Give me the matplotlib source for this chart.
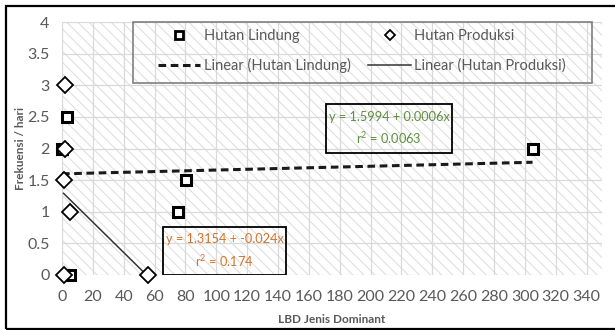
import matplotlib
matplotlib.use("Agg")
import matplotlib.pyplot as plt
from matplotlib.patches import Rectangle
import numpy as np

plt.rcParams['font.family'] = ['Lato', 'DejaVu Sans']
plt.rcParams['hatch.linewidth'] = 0.7
plt.rcParams['mathtext.fontset'] = 'custom'
plt.rcParams['mathtext.rm'] = 'Lato'

# Data
lindung_x = [0, 3.5, 5, 75, 80.5, 305]
lindung_y = [2, 2.5, 0, 1, 1.5, 2]
produksi_x = [2, 2, 1, 5.5, 1, 56]
produksi_y = [3, 2, 1.5, 1, 0, 0]

# Regression coefficients (intercept, slope) and r²
lindung_fit = (1.5994, 0.0006, 0.0063)
produksi_fit = (1.3154, -0.024, 0.174)

x_ticks = list(range(0, 341, 20))
y_ticks = [0, 0.5, 1, 1.5, 2, 2.5, 3, 3.5, 4]
x_label = "LBD Jenis Dominant"
y_label = "Frekuensi / hari"

gray_text = "#595959"
green = "#5f8f3e"
orange = "#d4742c"

W, H = 615, 330
fig = plt.figure(figsize=(W / 100, H / 100), dpi=100)
ax_left, ax_right, ax_top, ax_bottom = 62, 602, 22, 275
ax = fig.add_axes([ax_left / W, 1 - ax_bottom / H,
                   (ax_right - ax_left) / W, (ax_bottom - ax_top) / H])


def px_box(x0, y0, x1, y1):
    """Pixel rectangle -> axes-fraction (x, y, w, h)."""
    aw, ah = ax_right - ax_left, ax_bottom - ax_top
    return ((x0 - ax_left) / aw, (ax_bottom - y1) / ah,
            (x1 - x0) / aw, (y1 - y0) / ah)


# hatched plot background
ax.set_facecolor("white")
bg = Rectangle((0, 0), 1, 1, transform=ax.transAxes, facecolor="white",
               edgecolor="#dcdcdc", hatch="\\\\\\", linewidth=0, zorder=0)
ax.add_patch(bg)

ax.set_xlim(0, 350)
ax.set_ylim(0, 4)
ax.set_xticks(x_ticks)
ax.set_yticks(y_ticks)
ax.set_yticklabels([f"{v:g}" for v in y_ticks])
ax.grid(True, color="#d9d9d9", linewidth=0.9, zorder=0.5)
ax.set_axisbelow(True)
for s in ax.spines.values():
    s.set_visible(False)
ax.tick_params(length=0, labelsize=11.5, labelcolor=gray_text)
ax.tick_params(axis="x", pad=11)
ax.tick_params(axis="y", pad=9)

ax.set_xlabel(x_label, fontsize=8.5, fontweight="bold", color=gray_text, labelpad=7)
ax.set_ylabel(y_label, fontsize=8.5, fontweight="bold", color=gray_text, labelpad=1)

# trend lines
lx = np.array([min(lindung_x), max(lindung_x)])
px = np.array([min(produksi_x), max(produksi_x)])
l_line, = ax.plot(lx, lindung_fit[0] + lindung_fit[1] * lx, color="#1a1a1a",
                  linewidth=2.2, linestyle=(0, (2.5, 1.5)), zorder=3,
                  label="Linear (Hutan Lindung)")
p_line, = ax.plot(px, produksi_fit[0] + produksi_fit[1] * px, color="#333333",
                  linewidth=1.1, zorder=3, label="Linear (Hutan Produksi)")

# scatter points
l_pts, = ax.plot(lindung_x, lindung_y, linestyle="none", marker="s", markersize=7.5,
                 markerfacecolor="white", markeredgecolor="black", markeredgewidth=2.2,
                 zorder=4, label="Hutan Lindung", clip_on=False)
p_pts, = ax.plot(produksi_x, produksi_y, linestyle="none", marker="D", markersize=8,
                 markerfacecolor="white", markeredgecolor="black", markeredgewidth=1.3,
                 zorder=4, label="Hutan Produksi", clip_on=False)

# legend frame
lx0, ly0, lw, lh = px_box(133, 22, 592, 83)
ax.add_patch(Rectangle((lx0, ly0), lw, lh, transform=ax.transAxes, fill=False,
                       edgecolor="#7f7f7f", linewidth=1.2, zorder=5, clip_on=False))
leg = ax.legend(handles=[l_pts, l_line, p_pts, p_line], ncol=2,
                loc="upper left", bbox_to_anchor=px_box(158, 29, 566, 80),
                mode="expand", fontsize=10.5, frameon=False,
                handlelength=2.9, handletextpad=0.25, borderaxespad=0,
                labelspacing=1.05, borderpad=0, columnspacing=1.0)
for t in leg.get_texts():
    t.set_color(gray_text)
# smaller markers inside the legend
for h in leg.legend_handles:
    if h.get_marker() == "s":
        h.set_markersize(5.5)
        h.set_markeredgewidth(2.0)
    elif h.get_marker() == "D":
        h.set_markersize(5.5)
        h.set_markeredgewidth(1.3)


# regression equations in framed boxes
def eq_text(fit):
    a, b, r2 = fit
    return f"y = {a:g} + {b:g}x\nr$^2$ = {r2:g}"


def eq_box(box, fit, color):
    x, y, w, h = px_box(*box)
    ax.add_patch(Rectangle((x, y), w, h, transform=ax.transAxes, fill=False,
                           edgecolor="black", linewidth=1.3, zorder=5))
    ax.text(x + w / 2, y + h / 2, eq_text(fit), transform=ax.transAxes,
            color=color, fontsize=9.2, ha="center", va="center",
            linespacing=1.55, zorder=6)


eq_box((326, 104, 452, 153), lindung_fit, green)
eq_box((163, 227, 286, 275), produksi_fit, orange)

# outer chart border
fig.patches.append(Rectangle((6 / W, 1.5 / H), 1.0, 323 / H,
                             transform=fig.transFigure, fill=False,
                             edgecolor="black", linewidth=1.6))

fig.savefig("out.png", dpi=100)
